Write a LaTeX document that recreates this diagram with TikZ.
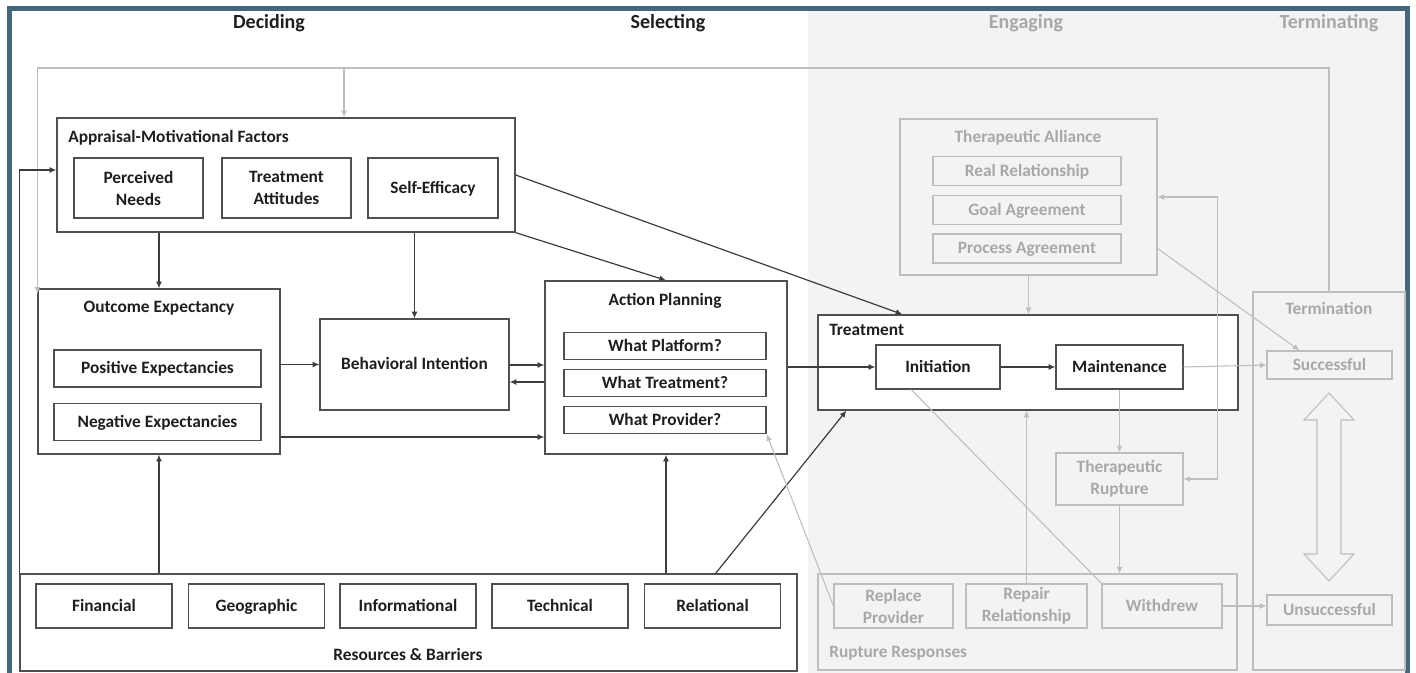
\documentclass[tikz,border=0pt]{standalone}
\usepackage{fontspec}
\setmainfont{Carlito}
\usepackage{tikz}
\usetikzlibrary{arrows.meta,calc}

\definecolor{framec}{HTML}{44687A}
\definecolor{shadec}{HTML}{F3F3F3}
\definecolor{dbox}{HTML}{505050}
\definecolor{dline}{HTML}{3C3C3C}
\definecolor{dtxt}{HTML}{1E1E1E}
\definecolor{gline}{HTML}{BEBEBE}
\definecolor{gtxt}{HTML}{A8A8A8}

\begin{document}
\begin{tikzpicture}[x=0.75pt,y=-0.75pt,
    >={Latex[length=5pt,width=4.5pt]},
    sz/.style 2 args={minimum width=#1*0.75pt,minimum height=#2*0.75pt},
    box/.style={draw=dbox,line width=1pt,inner sep=0pt,align=center,text=dtxt,
      text height=9pt,text depth=1pt,font=\fontsize{13}{16.5}\selectfont\bfseries},
    dbl/.style={text height={},text depth={}},
    gbox/.style={box,draw=gline,line width=0.8pt,text=gtxt},
    lbl/.style={inner sep=0pt,text=dtxt,text height=9pt,text depth=1pt,
      font=\fontsize{13}{16.5}\selectfont\bfseries},
    glbl/.style={lbl,text=gtxt},
    head/.style={inner sep=0pt,text=dtxt,text height=10.5pt,text depth=1pt,
      font=\fontsize{15}{17}\selectfont\bfseries},
    conn/.style={draw=dline,line width=0.9pt,->},
    gconn/.style={draw=gline,line width=0.8pt,->}]
  \useasboundingbox (0,0) rectangle (1416,673);
  \fill[shadec] (808,11) rectangle (1405,673);
  \draw[framec,line width=3.75pt] (9.5,673) -- (9.5,8.5) -- (1407.5,8.5) -- (1407.5,673);

  \node[head] (hdec) at (269,22) {Deciding};
  \node[head] (hsel) at (668,22) {Selecting};
  \node[head,text=gtxt] (heng) at (1026,22) {Engaging};
  \node[head,text=gtxt] (hter) at (1329,22) {Terminating};

  \node[box,sz={458}{114}] (app) at (286,175) {};
  \node[lbl,anchor=west] (appT) at (68,137) {Appraisal-Motivational Factors};
  \node[box,dbl,sz={129}{60}] (need) at (138.5,188) {Perceived\\Needs};
  \node[box,dbl,sz={129}{60}] (att) at (286.5,188) {Treatment\\Attitudes};
  \node[box,sz={130}{60}] (eff) at (433,188) {Self-Efficacy};

  \node[box,sz={242}{165}] (out) at (159,371.5) {};
  \node[lbl] (outT) at (159,307) {Outcome Expectancy};
  \node[box,sz={207}{37}] (pos) at (157.5,368.5) {Positive Expectancies};
  \node[box,sz={207}{37}] (neg) at (157.5,422) {Negative Expectancies};

  \node[box,sz={189}{91}] (bi) at (414.5,364.5) {Behavioral Intention};

  \node[box,fill=white,sz={242}{173}] (ap) at (666,367.5) {};
  \node[lbl] (apT) at (665,300) {Action Planning};
  \node[box,sz={202}{27}] (plat) at (665,346) {What Platform?};
  \node[box,sz={202}{27}] (trt) at (665,383) {What Treatment?};
  \node[box,sz={202}{27}] (prov) at (665,420) {What Provider?};

  \node[box,fill=white,sz={420}{95}] (treat) at (1028,362.5) {};
  \node[lbl,anchor=west] (treatT) at (829,330) {Treatment};
  \node[box,sz={124}{44}] (init) at (938,367) {Initiation};
  \node[box,sz={127}{44}] (maint) at (1119.5,367) {Maintenance};

  \node[box,sz={777}{97}] (res) at (408.5,622.5) {};
  \node[lbl] (resT) at (408,655) {Resources \& Barriers};
  \node[box,sz={136}{44}] (fin) at (104,606) {Financial};
  \node[box,sz={136}{44}] (geo) at (256.5,606) {Geographic};
  \node[box,sz={136}{44}] (info) at (408,606) {Informational};
  \node[box,sz={136}{44}] (tech) at (560,606) {Technical};
  \node[box,sz={136}{44}] (rel) at (712.5,606) {Relational};

  \node[gbox,sz={257}{156}] (ta) at (1028.5,197) {};
  \node[glbl] (taT) at (1028,137) {Therapeutic Alliance};
  \node[gbox,sz={188}{29}] (real) at (1027,171) {Real Relationship};
  \node[gbox,sz={188}{29}] (goal) at (1027,210) {Goal Agreement};
  \node[gbox,sz={188}{29}] (proc) at (1027,248.5) {Process Agreement};

  \node[gbox,dbl,sz={127}{52}] (rup) at (1119.5,479) {Therapeutic\\Rupture};

  \node[gbox,sz={419}{96}] (rr) at (1027.5,622) {};
  \node[glbl,anchor=west] (rrT) at (829,652) {Rupture Responses};
  \node[gbox,dbl,sz={119}{44}] (repl) at (893.5,606) {Replace\\Provider};
  \node[gbox,dbl,sz={121}{44}] (repair) at (1026.5,606) {Repair\\Relationship};
  \node[gbox,sz={120}{44}] (wd) at (1162,606) {Withdrew};

  \node[gbox,sz={152}{378}] (term) at (1329,481) {};
  \node[glbl] (termT) at (1329,309) {Termination};
  \node[gbox,sz={125}{28}] (succ) at (1329.5,365) {Successful};
  \node[gbox,sz={125}{30}] (unsucc) at (1329.5,610) {Unsuccessful};

  \draw[gline,line width=0.8pt,fill=shadec] (1329,393) -- (1354,420) -- (1341,420) -- (1341,554)
    -- (1354,554) -- (1329,581) -- (1304,554) -- (1317,554) -- (1317,420) -- (1304,420) -- cycle;

  \coordinate (loopR) at (term.north |- 0,68);
  \coordinate (loopL) at (out.north west |- 0,68);
  \coordinate (loopM) at (344,68);
  \draw[gconn] (term.north) -- (loopR) -- (loopL) -- ([yshift=-4pt]out.north west);
  \draw[gconn] (loopM) -- (loopM |- app.north);

  \draw[conn] (out.north |- app.south) -- (out.north);
  \draw[conn] (bi.north |- app.south) -- (bi.north);
  \draw[conn] (app.south east) -- (ap.north);
  \draw[conn] (app.east) -- ($(treat.north west)+(85,0)$);
  \draw[conn] (bi.west -| out.east) -- (bi.west);
  \draw[conn] (out.east |- 0,437) -- (ap.west |- 0,437);
  \draw[conn] (bi.east |- 0,365) -- (ap.west |- 0,365);
  \draw[conn] (ap.west |- 0,382) -- (bi.east |- 0,382);
  \draw[conn] (ap.east |- init.west) -- (init.west);
  \draw[conn] (init) -- (maint);
  \draw[conn] (out.south |- res.north) -- (out.south);
  \draw[conn] (ap.south |- res.north) -- (ap.south);
  \draw[conn] ($(res.north east)+(-82,0)$) -- ($(treat.south west)+(29,0)$);
  \draw[conn] (res.north west) |- ($(app.west)+(0,-5)$);

  \draw[gconn] (ta.south) -- (ta.south |- treat.north);
  \draw[gconn] (repair.north) -- (repair.north |- treat.south);
  \draw[gconn] (maint.south) -- (rup.north);
  \draw[gconn] (rup.south) -- (rup.south |- rr.north);
  \draw[gconn,<->] (rup.east) -- ++(34,0) |- (ta.east);
  \draw[gconn] (ta.east |- proc.east) -- ($(succ.north)+(-30,0)$);
  \draw[gconn] (maint.east) -- (succ.west);
  \draw[gconn] (wd.east) -- (wd.east -| unsucc.west);
  \draw[gconn] (repl.west) -- (prov.south east);
  \draw[gline,line width=0.8pt] ($(init.south west)+(36,0)$) -- (wd.north west);
\end{tikzpicture}
\end{document}
